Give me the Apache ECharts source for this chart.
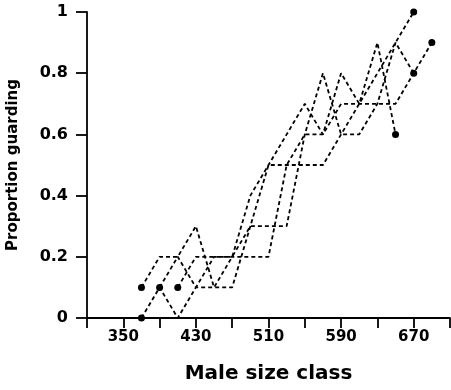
<!DOCTYPE html>
<html><head><meta charset="utf-8">
<script src="https://cdn.jsdelivr.net/npm/echarts@6/dist/echarts.min.js"></script>
<style>html,body{margin:0;padding:0;background:#fff}#c{width:451px;height:390px}</style>
</head><body><div id="c"></div>
<script>
// tick labels
const xTickLabels = [350, 430, 510, 590, 670];
const yTickLabels = [0, 0.2, 0.4, 0.6, 0.8, 1];

// series 1 (starts 370, ends 650)
const classes1 = [370,390,410,430,450,470,490,510,530,550,570,590,610,630,650];
const values1  = [0.1,0.2,0.2,0.3,0.1,0.2,0.4,0.5,0.6,0.7,0.6,0.8,0.7,0.9,0.6];
// series 2 (starts 370 at 0, ends 670 at 1)
const classes2 = [370,390,410,430,450,470,490,510,530,550,570,590,610,630,650,670];
const values2  = [0,0.1,0,0.1,0.1,0.1,0.3,0.5,0.5,0.5,0.5,0.6,0.7,0.8,0.9,1.0];
// series 3 (starts 390, ends 670 at 0.8)
const classes3 = [390,410,430,450,470,490,510,530,550,570,590,610,630,650,670];
const values3  = [0.1,0.2,0.1,0.2,0.2,0.3,0.3,0.3,0.6,0.8,0.6,0.6,0.7,0.9,0.8];
// series 4 (starts 410, ends 690)
const classes4 = [410,430,450,470,490,510,530,550,570,590,610,630,650,670,690];
const values4  = [0.1,0.2,0.2,0.2,0.2,0.2,0.5,0.6,0.6,0.7,0.7,0.7,0.7,0.8,0.9];

const allSeries = [[classes1, values1],[classes2, values2],[classes3, values3],[classes4, values4]];

const FONT = 'DejaVu Sans';
function buildSeries(cls, vals) {
  return {
    type: 'line',
    data: cls.map((c, i) => ({
      value: [c, vals[i]],
      symbol: (i === 0 || i === cls.length - 1) ? 'circle' : 'none'
    })),
    symbolSize: 7,
    showSymbol: true,
    itemStyle: { color: '#000' },
    lineStyle: { color: '#000', width: 1.8, type: [4, 3] },
    emphasis: { disabled: true },
    silent: true,
    z: 3
  };
}

const chart = echarts.init(document.getElementById('c'), null, { renderer: 'canvas' });
chart.setOption({
  animation: false,
  backgroundColor: '#fff',
  grid: { left: 87, right: 1, top: 12, bottom: 72, containLabel: false, outerBoundsMode: 'none' },
  xAxis: {
    type: 'value', min: 310, max: 710, interval: 40,
    name: 'Male size class', nameLocation: 'middle', nameGap: 46,
    nameTextStyle: { fontFamily: FONT, fontWeight: 'bold', fontSize: 20, color: '#000' },
    axisLine: { onZero: false, lineStyle: { color: '#000', width: 1.8 } },
    axisTick: { inside: false, length: 10, lineStyle: { color: '#000', width: 1.8 } },
    axisLabel: {
      margin: 12, color: '#000', fontFamily: FONT, fontWeight: 'bold', fontSize: 15,
      formatter: v => xTickLabels.indexOf(Math.round(v)) >= 0 ? String(Math.round(v)) : ''
    },
    splitLine: { show: false }
  },
  yAxis: {
    type: 'value', min: 0, max: 1, interval: 0.2,
    name: 'Proportion guarding', nameLocation: 'middle', nameGap: 66,
    nameTextStyle: { fontFamily: FONT, fontWeight: 'bold', fontSize: 15, color: '#000' },
    axisLine: { onZero: false, lineStyle: { color: '#000', width: 1.8 } },
    axisTick: { inside: false, length: 11, lineStyle: { color: '#000', width: 1.8 } },
    axisLabel: {
      margin: 19, color: '#000', fontFamily: FONT, fontWeight: 'bold', fontSize: 16,
      formatter: v => {
        const r = Math.round(v * 10) / 10;
        return yTickLabels.indexOf(r) >= 0 ? String(r) : '';
      }
    },
    splitLine: { show: false }
  },
  series: allSeries.map(s => buildSeries(s[0], s[1]))
});
</script></body></html>
